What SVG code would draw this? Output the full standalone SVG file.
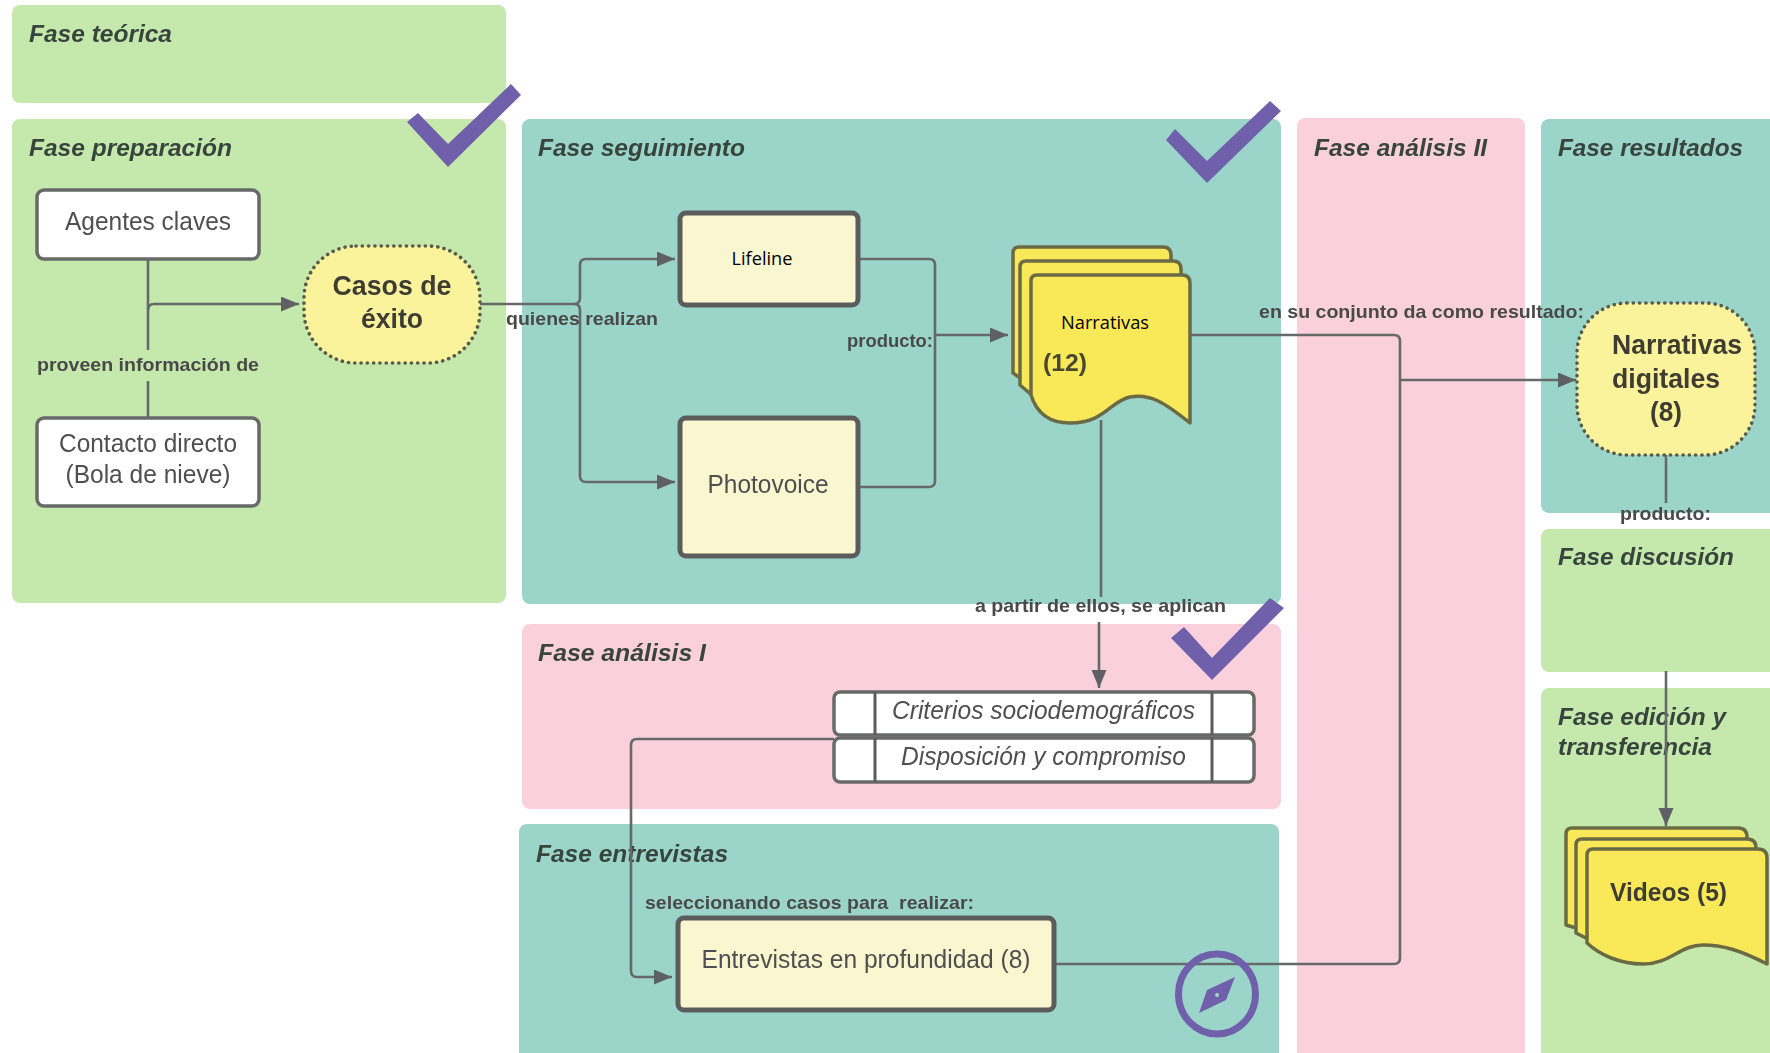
<svg xmlns="http://www.w3.org/2000/svg" width="1770" height="1053" viewBox="0 0 1770 1053">
<style>
text{font-family:"Liberation Sans",Arial,sans-serif;fill:#3d3d3d}
.ph{font-size:24px;font-weight:700;font-style:italic;fill:#38443e}
.lb{font-size:18.5px;font-weight:700;fill:#4a4a4a;white-space:pre}
.nd{font-size:25px;fill:#4f4f4f;text-anchor:middle}
.it{font-size:25px;font-style:italic;fill:#4f4f4f}
.bd{font-size:27px;font-weight:700;fill:#3d3d33}
.cal{font-family:"Open Sans","Noto Sans",sans-serif;font-size:18.5px;font-weight:500;fill:#000}
.gr{fill:#c5e8ac}.te{fill:#9bd5ca}.pk{fill:#f9d0dc}
.wire{fill:none;stroke:#66686a;stroke-width:2.6}
.box{fill:#fff;stroke:#686a6a;stroke-width:3.5}
.pale{fill:#faf6d0;stroke:#5c5c5c;stroke-width:5}
.term{fill:#fbf29c;stroke:#565c4a;stroke-width:3.6;stroke-dasharray:0.1 6.2;stroke-linecap:round}
.doc{fill:#f9e858;stroke:#6b6b45;stroke-width:3.5;stroke-linejoin:round}
.mark{fill:#7060ac}
</style>
<defs>
<filter id="soft" x="-2%" y="-2%" width="104%" height="104%"><feGaussianBlur stdDeviation="0.55"/></filter>
<marker id="arr" markerUnits="userSpaceOnUse" markerWidth="20" markerHeight="16" refX="18" refY="7.5" orient="auto"><path d="M0 0L18 7.5L0 15Z" fill="#5f6163"/></marker>
</defs>
<rect width="1770" height="1053" fill="#fff"/>
<g id="panels">
<rect id="p-teorica" class="gr" x="12" y="5" width="494" height="98" rx="8"/>
<rect id="p-preparacion" class="gr" x="12" y="119" width="494" height="484" rx="8"/>
<rect id="p-seguimiento" class="te" x="522" y="119" width="759" height="485" rx="8"/>
<rect id="p-analisis1" class="pk" x="522" y="624" width="759" height="185" rx="8"/>
<rect id="p-entrevistas" class="te" x="519" y="824" width="760" height="240" rx="8"/>
<rect id="p-analisis2" class="pk" x="1297" y="118" width="228" height="950" rx="8"/>
<rect id="p-resultados" class="te" x="1541" y="119" width="240" height="394" rx="8"/>
<rect id="p-discusion" class="gr" x="1541" y="529" width="240" height="143" rx="8"/>
<rect id="p-edicion" class="gr" x="1541" y="688" width="240" height="380" rx="8"/>
<g filter="url(#soft)">
<text class="ph" x="29" y="42" textLength="143" lengthAdjust="spacingAndGlyphs">Fase teórica</text>
<text class="ph" x="29" y="156" textLength="203" lengthAdjust="spacingAndGlyphs">Fase preparación</text>
<text class="ph" x="538" y="156" textLength="207" lengthAdjust="spacingAndGlyphs">Fase seguimiento</text>
<text class="ph" x="538" y="661" textLength="168" lengthAdjust="spacingAndGlyphs">Fase análisis I</text>
<text class="ph" x="536" y="862" textLength="192" lengthAdjust="spacingAndGlyphs">Fase entrevistas</text>
<text class="ph" x="1314" y="156" textLength="173" lengthAdjust="spacingAndGlyphs">Fase análisis II</text>
<text class="ph" x="1558" y="156" textLength="185" lengthAdjust="spacingAndGlyphs">Fase resultados</text>
<text class="ph" x="1558" y="565" textLength="176" lengthAdjust="spacingAndGlyphs">Fase discusión</text>
<text class="ph" x="1558" y="725" textLength="168" lengthAdjust="spacingAndGlyphs">Fase edición y</text>
<text class="ph" x="1558" y="755" textLength="154" lengthAdjust="spacingAndGlyphs">transferencia</text>
</g>
</g>
<g id="connectors" filter="url(#soft)">
<path class="wire" d="M148 259V417"/>
<path class="wire" marker-end="url(#arr)" d="M148 310Q148 304 154 304H299"/>
<path class="wire" d="M480 304H574Q580 304 580 298V265Q580 259 586 259H675" marker-end="url(#arr)"/>
<path class="wire" d="M574 304Q580 304 580 310V476Q580 482 586 482H675" marker-end="url(#arr)"/>
<path class="wire" d="M858 259H929Q935 259 935 265V481Q935 487 929 487H858"/>
<path class="wire" d="M935 335H1008" marker-end="url(#arr)"/>
<path class="wire" d="M1101 420V597"/>
<path class="wire" d="M1099 622V688" marker-end="url(#arr)"/>
<path class="wire" d="M834 739H637Q631 739 631 745V971Q631 977 637 977H672" marker-end="url(#arr)"/>
<path class="wire" d="M1190 335H1394Q1400 335 1400 341V958Q1400 964 1394 964H1054"/>
<path class="wire" d="M1400 380H1576" marker-end="url(#arr)"/>
<path class="wire" d="M1666 455V503"/>
<path class="wire" d="M1666 671V826" marker-end="url(#arr)"/>
</g>
<g filter="url(#soft)">
<g id="n-agentes"><rect class="box" x="37" y="190" width="222" height="69" rx="7"/><text class="nd" x="148" y="230" textLength="166" lengthAdjust="spacingAndGlyphs">Agentes claves</text></g>
<g id="n-contacto"><rect class="box" x="37" y="418" width="222" height="88" rx="7"/><text class="nd" x="148" y="452" textLength="178" lengthAdjust="spacingAndGlyphs">Contacto directo</text><text class="nd" x="148" y="483" textLength="165" lengthAdjust="spacingAndGlyphs">(Bola de nieve)</text></g>
<g id="n-casos"><rect class="term" x="304" y="246" width="176" height="117" rx="52"/><text class="bd" x="392" y="295" text-anchor="middle" textLength="119" lengthAdjust="spacingAndGlyphs">Casos de</text><text class="bd" x="392" y="328" text-anchor="middle" textLength="62" lengthAdjust="spacingAndGlyphs">éxito</text></g>
<g id="n-photovoice"><rect class="pale" x="680" y="418" width="178" height="138" rx="6"/><text class="nd" x="768" y="493" textLength="121" lengthAdjust="spacingAndGlyphs">Photovoice</text></g>
<g id="n-lifeline"><rect class="pale" x="680" y="213" width="178" height="92" rx="6"/></g>
<g id="n-narrativas">
<path class="doc" d="M1019 247H1163Q1171 247 1171 255V300H1040V392L1013 373V253Q1013 247 1019 247Z"/>
<path class="doc" d="M1026 261H1173Q1181 261 1181 269V300H1040V402L1020 385V267Q1020 261 1026 261Z"/>
<path class="doc" d="M1037 275H1182Q1190 275 1190 283V423C1165 403 1150 393 1130 397C1110 401 1105 423 1070 423C1045 423 1035 408 1031 395V281Q1031 275 1037 275Z"/>
</g>
<g id="n-digitales"><rect class="term" x="1577" y="303" width="178" height="152" rx="50"/><text class="bd" x="1612" y="354" textLength="130" lengthAdjust="spacingAndGlyphs">Narrativas</text><text class="bd" x="1612" y="388" textLength="108" lengthAdjust="spacingAndGlyphs">digitales</text><text class="bd" x="1666" y="421" text-anchor="middle" textLength="32" lengthAdjust="spacingAndGlyphs">(8)</text></g>
<g id="n-criterios"><rect class="box" x="834" y="692" width="420" height="43" rx="6"/><path d="M875 692V735M1212 692V735" stroke="#5c5c5c" stroke-width="3" fill="none"/><text class="it" x="892" y="719" textLength="303" lengthAdjust="spacingAndGlyphs">Criterios sociodemográficos</text></g>
<g id="n-disposicion"><rect class="box" x="834" y="738" width="420" height="44" rx="6"/><path d="M875 738V782M1212 738V782" stroke="#5c5c5c" stroke-width="3" fill="none"/><text class="it" x="901" y="765" textLength="285" lengthAdjust="spacingAndGlyphs">Disposición y compromiso</text></g>
<g id="n-entrevistas"><rect class="pale" x="678" y="918" width="376" height="92" rx="6"/><text class="nd" x="866" y="968" textLength="329" lengthAdjust="spacingAndGlyphs">Entrevistas en profundidad (8)</text></g>
<g id="n-videos">
<path class="doc" d="M1572 828H1738Q1747 828 1747 837V870H1600V935L1566 925 V834Q1566 828 1572 828Z"/>
<path class="doc" d="M1582 839H1747Q1756 839 1756 848V870H1600V945L1576 933V845Q1576 839 1582 839Z"/>
<path class="doc" d="M1593 849H1758Q1767 849 1767 858V964C1740 950 1722 945 1703 945C1680 945 1670 964 1643 964C1620 964 1600 955 1587 943V855Q1587 849 1593 849Z"/>
<text class="bd" x="1610" y="901" style="font-size:25px" textLength="117" lengthAdjust="spacingAndGlyphs">Videos (5)</text>
</g>
<g id="labels">
<rect x="36" y="350" width="224" height="31" class="gr"/>
<text class="lb" x="37" y="371" textLength="222" lengthAdjust="spacingAndGlyphs">proveen información de</text>
<text class="lb" x="506" y="325" textLength="152" lengthAdjust="spacingAndGlyphs">quienes realizan</text>
<text class="lb" x="847" y="347" textLength="86" lengthAdjust="spacingAndGlyphs">producto:</text>
<text class="lb" x="1259" y="318" textLength="325" lengthAdjust="spacingAndGlyphs">en su conjunto da como resultado:</text>
<text class="lb" x="975" y="612" textLength="251" lengthAdjust="spacingAndGlyphs">a partir de ellos, se aplican</text>
<text class="lb" x="645" y="909" textLength="329" lengthAdjust="spacingAndGlyphs">seleccionando casos para  realizar:</text>
<text class="lb" x="1620" y="520" textLength="91" lengthAdjust="spacingAndGlyphs">producto:</text>
<text x="1043" y="371" style="font-size:24px;font-weight:700;fill:#4a4a30" textLength="44" lengthAdjust="spacingAndGlyphs">(12)</text>
</g>
</g>
<text class="cal" x="762" y="265" text-anchor="middle" textLength="61" lengthAdjust="spacingAndGlyphs">Lifeline</text>
<text class="cal" x="1105" y="329" text-anchor="middle" textLength="88" lengthAdjust="spacingAndGlyphs">Narrativas</text>
<g id="checks">
<polygon class="mark" points="511,84 521,95 448,167 407,122 418,113 448,144"/>
<polygon class="mark" points="1270,101 1281,111 1207,183 1166,140 1175,129 1207,161"/>
<polygon class="mark" points="1270,598 1284,608 1212,680 1171,638 1184,627 1212,658"/>
</g>
<g id="compass">
<ellipse cx="1217" cy="994" rx="38.5" ry="40" fill="none" stroke="#7060ac" stroke-width="7"/>
<path class="mark" fill-rule="evenodd" d="M1235 977L1226 1000L1199 1013L1207 990ZM1217 993a2 2 0 1 0 .1 0Z"/>
</g>
</svg>
